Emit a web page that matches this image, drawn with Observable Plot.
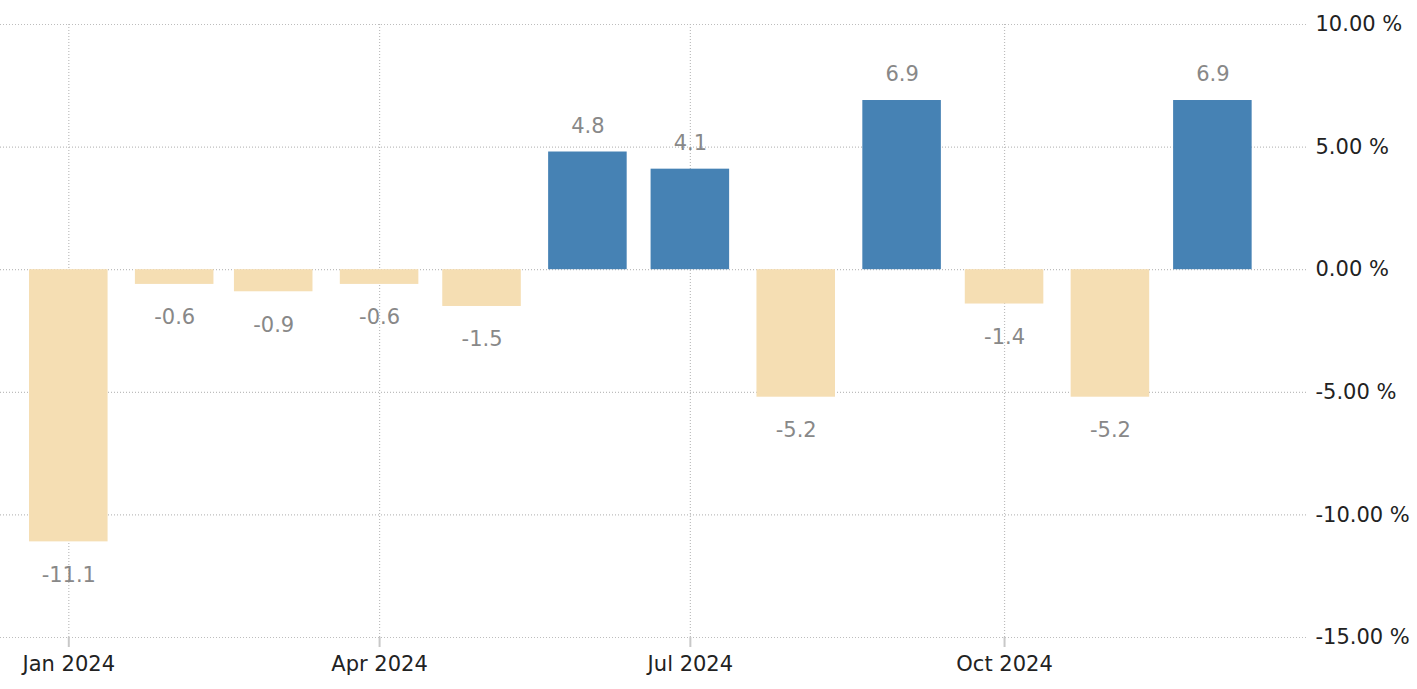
<!DOCTYPE html>
<html>
<head>
<meta charset="utf-8">
<script src="https://cdn.jsdelivr.net/npm/d3@7"></script>
<script src="https://cdn.jsdelivr.net/npm/@observablehq/plot@0.6"></script>
<style>
  html, body { margin: 0; padding: 0; background: #fff; }
  #chart svg { display: block; }
</style>
</head>
<body>
<div id="chart"></div>
<script>
// ---- data ----
const months = ["2024-01-01","2024-02-01","2024-03-01","2024-04-01","2024-05-01","2024-06-01",
                "2024-07-01","2024-08-01","2024-09-01","2024-10-01","2024-11-01","2024-12-01"];
const values = [-11.1, -0.6, -0.9, -0.6, -1.5, 4.8, 4.1, -5.2, 6.9, -1.4, -5.2, 6.9];
const xTickMonths = ["2024-01-01","2024-04-01","2024-07-01","2024-10-01"];
const yTicks = [10, 5, 0, -5, -10, -15];

const data = months.map((m, i) => ({date: new Date(m + "T00:00:00Z"), value: values[i]}));
const xTicks = xTickMonths.map(m => new Date(m + "T00:00:00Z"));

const first = data[0].date, last = data[data.length - 1].date;
const halfBar = 276; // hours, half of bar width

const font = "'DejaVu Sans', Tahoma, sans-serif";
const gridStyle = {stroke: "#bdbdbd", strokeOpacity: 1, strokeDasharray: "1,2", strokeWidth: 1.2};

const chart = Plot.plot({
  width: 1417,
  height: 689,
  marginTop: 24,
  marginBottom: 52,
  marginLeft: 0,
  marginRight: 109,
  style: {fontFamily: font, fontSize: "21px", color: "#222", background: "#fff"},
  x: {type: "utc", domain: [d3.utcDay.offset(first, -20), d3.utcDay.offset(last, 28)]},
  y: {domain: [-15, 10]},
  marks: [
    Plot.gridY(yTicks, {...gridStyle}),
    Plot.gridX(xTicks, {...gridStyle}),
    Plot.axisX({ticks: xTicks, tickFormat: d3.utcFormat("%b %Y"), tickSize: 10, stroke: "#c8c8c8", strokeWidth: 2, tickPadding: 9, fill: "#222", fontSize: 21, fontFamily: font, label: null}),
    Plot.axisY({anchor: "right", ticks: yTicks, tickSize: 0, tickPadding: 7, tickFormat: d => d.toFixed(2) + " %", fill: "#222", fontSize: 21, fontFamily: font, label: null}),
    Plot.rectY(data, {
      x1: d => d3.utcHour.offset(d.date, -halfBar),
      x2: d => d3.utcHour.offset(d.date, halfBar),
      y1: 0,
      y2: "value",
      fill: d => d.value >= 0 ? "#4682B4" : "#F5DEB3"
    }),
    Plot.text(data, {
      x: "date",
      y: "value",
      text: d => d.value.toFixed(1),
      fill: "#888",
      fontSize: 21,
      fontFamily: font,
      lineAnchor: "middle",
      filter: d => d.value >= 0,
      dy: -26
    }),
    Plot.text(data, {
      x: "date",
      y: "value",
      text: d => d.value.toFixed(1),
      fill: "#888",
      fontSize: 21,
      fontFamily: font,
      lineAnchor: "middle",
      filter: d => d.value < 0,
      dy: 33
    })
  ]
});
document.getElementById("chart").append(chart);
</script>
</body>
</html>
